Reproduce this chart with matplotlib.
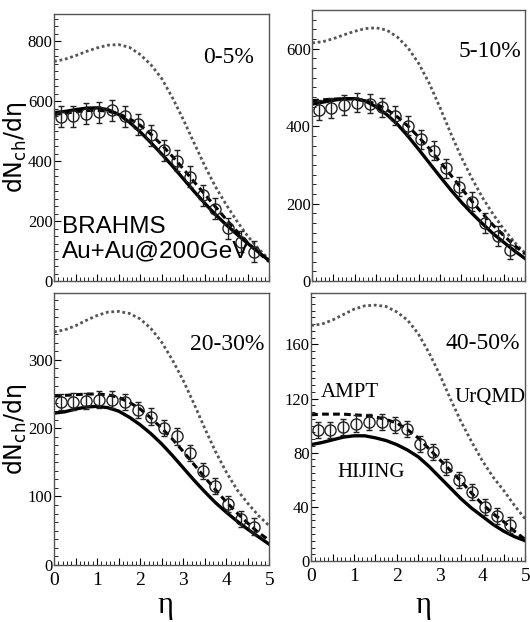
#!/usr/bin/env python3

import numpy as np
import matplotlib.pyplot as plt
from matplotlib.ticker import MultipleLocator, FuncFormatter

# pseudorapidity grids
eta_data = [0.15, 0.45, 0.75, 1.05, 1.35, 1.65, 1.95, 2.25,
            2.55, 2.85, 3.15, 3.45, 3.75, 4.05, 4.35, 4.65]
eta_model = [0.0, 0.25, 0.5, 0.75, 1.0, 1.25, 1.5, 1.75, 2.0, 2.25, 2.5,
             2.75, 3.0, 3.25, 3.5, 3.75, 4.0, 4.25, 4.5, 4.75, 5.0]

centralities = ["0-5%", "5-10%", "20-30%", "40-50%"]

# BRAHMS dN/deta and errors
brahms_0_5 = [548, 550, 559, 564, 570, 550, 523, 487, 437, 401, 348, 287, 242, 176, 131, 98]
brahms_5_10 = [442, 447, 455, 461, 458, 449, 427, 401, 366, 337, 291, 244, 205, 150, 117, 81]
brahms_20_30 = [238, 239, 240, 242, 242, 238, 227, 217, 200, 188, 164, 137, 115, 89, 67, 56]
brahms_40_50 = [96.6, 97, 99, 101.5, 102.7, 102.7, 100.7, 97.8, 86.7, 80.5, 69.5, 59.6, 51, 40, 33, 26.4]
err_0_5 = [35] * 16
err_5_10 = [25] * 16
err_20_30 = [12] * 16
err_40_50 = [6] * 16

# HIJING
hijing_0_5 = [562, 566, 572, 577, 578, 572, 556, 530, 498, 462, 424, 384, 342, 300, 260, 222, 188, 156, 126, 97, 68]
hijing_5_10 = [457, 462, 467, 471, 471, 465, 450, 430, 405, 374, 340, 305, 270, 236, 204, 175, 148, 122, 100, 78, 58]
hijing_20_30 = [222, 224, 228, 231, 232, 230, 225, 216, 205, 192, 177, 160, 142, 124, 107, 91, 77, 64, 52, 41, 30]
hijing_40_50 = [86, 87.5, 89.5, 91.5, 92.5, 92.5, 91, 89, 86, 82, 77, 70, 62, 54, 46, 39, 33, 27, 22, 18, 15]

# AMPT
ampt_0_5 = [556, 560, 565, 569, 570, 567, 558, 542, 520, 490, 455, 416, 375, 332, 290, 248, 206, 166, 128, 95, 65]
ampt_5_10 = [466, 468, 470, 471, 470, 466, 457, 443, 424, 400, 372, 342, 308, 274, 240, 206, 174, 144, 117, 92, 70]
ampt_20_30 = [247, 248, 249, 250, 250, 249, 245, 238, 228, 215, 200, 184, 166, 147, 128, 110, 92, 76, 61, 47, 36]
ampt_40_50 = [108, 108.5, 108.5, 108.5, 108, 107.5, 106.5, 104.5, 102, 97, 91, 83, 75, 67, 59, 50, 42, 35, 29, 22, 16]

# UrQMD
urqmd_0_5 = [733, 740, 752, 766, 778, 787, 789, 780, 756, 722, 676, 612, 540, 462, 385, 315, 255, 200, 150, 108, 72]
urqmd_5_10 = [615, 618, 626, 636, 645, 652, 654, 648, 630, 602, 562, 510, 448, 382, 320, 265, 215, 172, 134, 100, 72]
urqmd_20_30 = [341, 344, 350, 358, 365, 370, 371, 368, 360, 346, 326, 300, 270, 236, 200, 166, 136, 110, 90, 72, 57]
urqmd_40_50 = [174, 175, 178, 182, 186, 188.5, 189, 188, 184, 178, 168, 154, 138, 120, 103, 88, 74, 62, 52, 41, 31]

ymax = [890, 700, 398, 198]
ymajor = [200, 200, 100, 40]
yminor = [25, 25, 12.5, 5]

brahms = [brahms_0_5, brahms_5_10, brahms_20_30, brahms_40_50]
errors = [err_0_5, err_5_10, err_20_30, err_40_50]
hijing = [hijing_0_5, hijing_5_10, hijing_20_30, hijing_40_50]
ampt = [ampt_0_5, ampt_5_10, ampt_20_30, ampt_40_50]
urqmd = [urqmd_0_5, urqmd_5_10, urqmd_20_30, urqmd_40_50]

# axes rectangles [left, bottom, width, height] in figure fraction
rects = [
    [0.102, 0.548, 0.406, 0.429],
    [0.589, 0.548, 0.402, 0.436],
    [0.102, 0.092, 0.406, 0.437],
    [0.587, 0.098, 0.404, 0.431],
]
label_pos = [(0.81, 0.84), (0.836, 0.845), (0.805, 0.81), (0.80, 0.81)]

serif = "Liberation Serif"


def int_only(v, pos):
    return "%d" % v if abs(v - round(v)) < 1e-6 else ""


fig = plt.figure(figsize=(5.3, 6.22), dpi=100)

for i in range(4):
    ax = fig.add_axes(rects[i])
    ax.plot(eta_model, urqmd[i], color="#555555", lw=2.0, linestyle=(0, (1, 1)))
    ax.plot(eta_model, ampt[i], color="black", lw=2.2, linestyle=(0, (2.2, 1.4)))
    ax.plot(eta_model, hijing[i], color="black", lw=2.4)
    ax.errorbar(eta_data, brahms[i], yerr=errors[i], fmt="o", ms=8, mfc="none",
                mec="#222222", mew=1.0, ecolor="#222222", elinewidth=1.0,
                capsize=2.5, capthick=1.0)

    ax.set_xlim(0, 5)
    ax.set_ylim(0, ymax[i])
    ax.xaxis.set_major_locator(MultipleLocator(0.5))
    ax.xaxis.set_minor_locator(MultipleLocator(0.1))
    ax.yaxis.set_major_locator(MultipleLocator(ymajor[i]))
    ax.yaxis.set_minor_locator(MultipleLocator(yminor[i]))
    ax.xaxis.set_major_formatter(FuncFormatter(int_only))
    ax.tick_params(which="both", direction="in", top=False, right=False)
    ax.tick_params(which="major", length=5, width=0.8)
    ax.tick_params(which="minor", length=3, width=0.6)
    ax.tick_params(axis="y", labelsize=12, pad=1)
    ax.tick_params(axis="x", labelsize=14, pad=5)
    if i < 2:
        ax.tick_params(axis="x", labelbottom=False)
    for lab in ax.get_xticklabels() + ax.get_yticklabels():
        lab.set_fontfamily(serif)
    for s in ax.spines.values():
        s.set_color("#555555")
        s.set_linewidth(1.0)

    ax.text(label_pos[i][0], label_pos[i][1], centralities[i], transform=ax.transAxes,
            ha="center", va="center", fontsize=17, family=serif)

    if i == 0:
        ax.text(0.037, 0.18, "BRAHMS", transform=ax.transAxes, ha="left",
                va="baseline", fontsize=17.5, family="Liberation Sans")
        ax.text(0.037, 0.09, "Au+Au@200GeV", transform=ax.transAxes, ha="left",
                va="baseline", fontsize=17.5, family="Liberation Sans", clip_on=False)
    if i == 3:
        ax.text(0.18, 0.63, "AMPT", transform=ax.transAxes, ha="center",
                va="center", fontsize=15, family=serif)
        ax.text(0.836, 0.61, "UrQMD", transform=ax.transAxes, ha="center",
                va="center", fontsize=15, family=serif)
        ax.text(0.28, 0.33, "HIJING", transform=ax.transAxes, ha="center",
                va="center", fontsize=15, family=serif)

# shared axis titles
for yc in [1 - 147 / 622, 1 - 429 / 622]:
    fig.text(15 / 530, yc, r"dN$_{\mathrm{ch}}$/d$\mathrm{\eta}$", rotation=90, ha="center",
             va="center", fontsize=17, family="DejaVu Sans")
for xc in [165 / 530, 423 / 530]:
    fig.text(xc, 1 - 606 / 622, "η", ha="center", va="center", fontsize=22, family=serif)

plt.savefig("out.png", dpi=100)
